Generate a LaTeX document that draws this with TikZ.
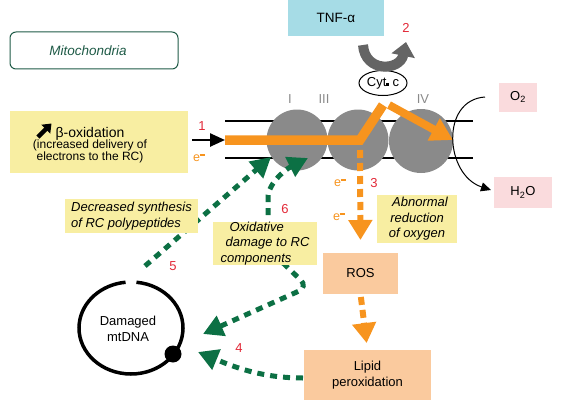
\documentclass[tikz,border=0pt]{standalone}
\usepackage{fontspec}
\setmainfont{Liberation Sans}
\usetikzlibrary{arrows.meta,shapes.geometric,calc}
\definecolor{yel}{RGB}{248,238,162}
\definecolor{peach}{RGB}{250,202,158}
\definecolor{pinkb}{RGB}{250,219,221}
\definecolor{blueb}{RGB}{166,220,230}
\definecolor{orng}{RGB}{247,148,30}
\definecolor{grn}{RGB}{12,112,68}
\definecolor{redn}{RGB}{226,40,55}
\definecolor{mgreen}{RGB}{30,90,70}
\definecolor{cgray}{RGB}{138,138,138}
\definecolor{agray}{RGB}{100,100,100}
\newcommand{\elmin}{e\raisebox{5.5pt}{\rule{5pt}{1.4pt}}}
\begin{document}
\begin{tikzpicture}[x=1pt,y=-1pt,
  every node/.style={inner sep=0pt, outer sep=0pt},
  txt/.style={font=\fontsize{13}{15.5}\selectfont, align=center},
  itxt/.style={font=\fontsize{13}{15.5}\selectfont\itshape},
  num/.style={text=redn, font=\fontsize{13}{15}\selectfont},
  elec/.style={text=orng, font=\fontsize{12.5}{14}\selectfont},
  cplx/.style={circle, fill=cgray, minimum size=#1},
  cplxlab/.style={text=cgray, font=\fontsize{13}{15}\selectfont},
  gdash/.style={draw=grn, line width=5pt, dash pattern=on 7pt off 6pt, -{Triangle[length=20pt,width=21pt]}},
  odash/.style={draw=orng, line width=6pt, dash pattern=on 8pt off 5pt, -{Triangle[length=20pt,width=23pt]}},
  memb/.style={line width=1.8pt},
]
\useasboundingbox (0,0) rectangle (562,404);

% Mitochondria label
\node[draw=mgreen, line width=1pt, rounded corners=6pt, minimum width=168pt, minimum height=37pt, font=\fontsize{13.5}{15.5}\selectfont]
  (mito) at (94,50.5) {\hspace*{-12pt}\color{mgreen}\itshape Mitochondria};

% TNF-alpha
\node[fill=blueb, minimum width=96pt, minimum height=37pt, font=\fontsize{13.5}{15.5}\selectfont] (tnf) at (336,18) {TNF-α};
\node[num] (n2) at (406,28) {2};

% membrane
\coordinate (m1a) at (225,121); \coordinate (m1b) at (473,121);
\coordinate (m2a) at (225,158); \coordinate (m2b) at (473,158);
\draw[memb] (m1a) -- (m1b);
\draw[memb] (m2a) -- (m2b);

% complexes
\node[cplx=61pt] (c1) at (297,140) {};
\node[cplx=61pt] (c3) at (358,140) {};
\node[cplx=64pt] (c4) at (421,141) {};
\node[cplxlab] (l1) at (290,99) {I};
\node[cplxlab] (l3) at (324,99) {III};
\node[cplxlab] (l4) at (423,99) {IV};

% Cyt c
\node[draw, ellipse, line width=1pt, minimum width=48pt, minimum height=25pt, txt] (cyt) at (383,83) {Cyt\raisebox{0.3pt}{\rule{2.6pt}{2.6pt}} c};

% gray curved arrow
\coordinate (g0) at (363,45);
\coordinate (g1) at (406,42);
\draw[line width=10pt, draw=agray, -{Triangle[length=14pt,width=23pt]}]
  (g0) .. controls (365,73) and (400,71) .. (g1);

% orange electron path
\coordinate (o0) at (225,140);
\coordinate (o1) at (360,140);
\coordinate (o2) at (383,105);
\coordinate (o3) at (389,105);
\coordinate (o4) at (453,140);
\draw[draw=orng, line width=9.5pt, line join=miter] (o0) -- (o1) -- (o2);
\draw[draw=orng, line width=8pt, -{Triangle[length=22pt,width=24pt]}] (o3) -- (o4);

% O2 / H2O
\node[fill=pinkb, minimum width=38pt, minimum height=29pt, txt] (ox) at (518,97) {O\textsubscript{2}};
\node[fill=pinkb, minimum width=58pt, minimum height=31pt, txt] (h2o) at (523,192.5) {H\textsubscript{2}O};
\coordinate (k0) at (485,97);
\coordinate (k1) at (491,190);
\draw[line width=1pt, -{Triangle[length=10pt,width=9pt]}] (k0) .. controls (440,100) and (445,175) .. (k1);

% beta oxidation box
\node[fill=yel, minimum width=178pt, minimum height=62pt] (betabox) at (99,142) {};
\node[align=center] (beta) at (90,145)
  {\fontsize{14}{16}\selectfont β-oxidation\\[-1pt]
   \fontsize{12}{14}\selectfont (increased delivery of\\
   \fontsize{12}{14}\selectfont electrons to the RC)};
\draw[line width=4.5pt, -{Triangle[length=8pt,width=12pt]}] (38,137) -- (51.5,123.5);

% arrow 1
\coordinate (a1) at (192,140);
\draw[line width=2.5pt, -{Triangle[length=15pt,width=13pt]}] (a1) -- (o0);
\node[num] (n1) at (202,126) {1};
\node[elec] (e1) at (199,158) {\elmin};

% ROS, lipid
\node[fill=peach, minimum width=75pt, minimum height=41pt, txt] (ros) at (360.5,273.5) {ROS};
\node[fill=peach, minimum width=127pt, minimum height=50pt, txt] (lip) at (367.5,375) {Lipid\\peroxidation};
\coordinate (v0) at (360,150);
\draw[odash, shorten >=13pt] (v0) -- (ros.north);
\draw[odash, shorten <=3pt, shorten >=7pt] (ros.south) -- (lip.north);
\node[num] (n3) at (374,183) {3};
\node[elec] (e3a) at (340,183) {\elmin};
\node[elec] (e3b) at (339,217) {\elmin};

% Abnormal reduction
\node[fill=yel, minimum width=80pt, minimum height=48pt, itxt, align=center] (abn) at (417,219)
  {\hspace*{6pt}Abnormal\\reduction\\of oxygen};

% mtDNA
\coordinate (dc) at (131,328);
\draw[line width=3.5pt] ([shift={(84:52pt and 46pt)}]dc) arc[start angle=84, end angle=-264, x radius=52pt, y radius=46pt];
\node[circle, fill=black, minimum size=17pt] (dot) at (173,354) {};
\node[txt] (mt) at (128,329) {Damaged\\mtDNA};

% green arrows
\coordinate (s5) at (145,266);
\coordinate (t5) at (271,157);
\draw[gdash] (s5) -- (t5);
\node[num] (n5) at (173,266) {5};

\coordinate (s6) at (268,215);
\coordinate (t6) at (308,158);
\draw[gdash] (s6) -- (268,198) .. controls (268,182) and (288,168) .. (t6);
\node[num] (n6) at (285,209) {6};

\coordinate (s7) at (283,263);
\coordinate (t7) at (203,334);
\draw[gdash, rounded corners=10pt] (s7) -- (308,287) -- (t7);

\coordinate (s4) at (303,378);
\coordinate (t4) at (198,352);
\draw[gdash] (s4) .. controls (260,378) and (232,366) .. (t4);
\node[num] (n4) at (239,348) {4};

% yellow text boxes over green lines
\node[fill=yel, minimum width=133pt, minimum height=34pt, itxt, align=left] (dec) at (131.5,216)
  {Decreased synthesis\\of RC polypeptides};
\node[fill=yel, minimum width=104pt, minimum height=43pt, itxt, align=left] (oxd) at (265,243.5)
  {\hspace*{9pt}Oxidative\\\hspace*{5pt}damage to RC\\components};

\end{tikzpicture}
\end{document}
